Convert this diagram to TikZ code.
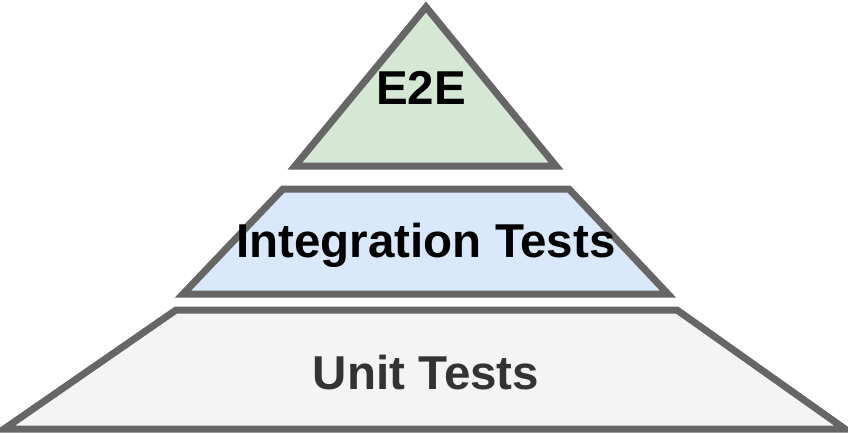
\documentclass[tikz,border=0pt]{standalone}
\usepackage{fontspec}
\setmainfont{Liberation Sans}
\definecolor{edgegray}{HTML}{666666}
\definecolor{topgreen}{HTML}{D5E8D4}
\definecolor{midblue}{HTML}{DAE8FC}
\definecolor{basegray}{HTML}{F4F4F4}
\definecolor{textdark}{HTML}{333333}
\begin{document}
\begin{tikzpicture}[
    x=1pt, y=-1pt,
    layer/.style={draw=edgegray, line width=7pt, line join=miter},
    lbl/.style={font=\bfseries\fontsize{47.5}{57}\selectfont, align=center},
]

\useasboundingbox (0,0) rectangle (848,432);

% pyramid layers
\draw[layer, fill=basegray] (176,310) -- (677,310) -- (845,429) -- (4,429) -- cycle;
\draw[layer, fill=midblue]  (283,189) -- (569,189) -- (668,294) -- (183,294) -- cycle;
\draw[layer, fill=topgreen] (426,7) -- (556,166) -- (295,166) -- cycle;

% labels
\node[lbl]                 (e2e)   at (421, 88) {E2E};
\node[lbl]                 (integ) at (426,245) {Integration Tests};
\node[lbl, text=textdark]  (unit)  at (426,373) {Unit Tests};

\end{tikzpicture}
\end{document}
